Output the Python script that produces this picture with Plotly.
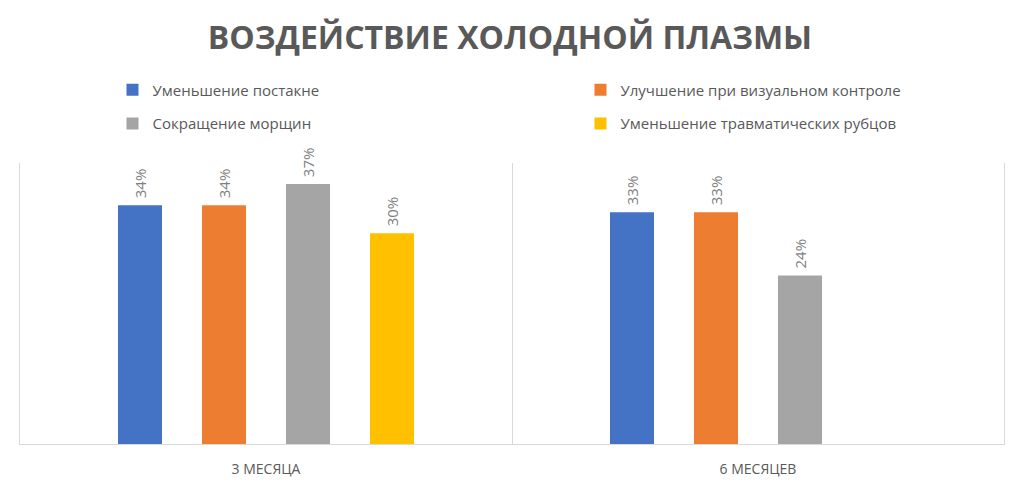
import plotly.graph_objects as go

categories = ["3 МЕСЯЦА", "6 МЕСЯЦЕВ"]
series_names = [
    "Уменьшение постакне",
    "Улучшение при визуальном контроле",
    "Сокращение морщин",
    "Уменьшение травматических рубцов",
]
series_values = [
    [0.34, 0.33],
    [0.34, 0.33],
    [0.37, 0.24],
    [0.30, None],
]
colors = ["#4472C4", "#ED7D31", "#A5A5A5", "#FFC000"]
legend_ids = ["legend", "legend", "legend2", "legend2"]

fig = go.Figure()
for name, vals, col, lg in zip(series_names, series_values, colors, legend_ids):
    fig.add_trace(go.Bar(
        x=categories, y=vals, name=name, legend=lg,
        marker=dict(color=col, line=dict(width=0)),
        text=["\u00a0" + f"{v*100:.0f}%" if v is not None else "" for v in vals],
        textposition="outside", textangle=-90,
        textfont=dict(family="Open Sans", size=15, color="#7F7F7F"),
        cliponaxis=False,
    ))

legend_common = dict(orientation="h", x=0.094, xanchor="left", yanchor="middle",
                     entrywidth=423, entrywidthmode="pixels",
                     font=dict(family="Open Sans", size=15, color="#595959"),
                     itemclick=False, bgcolor="rgba(0,0,0,0)")

fig.update_layout(
    width=1016, height=480,
    margin=dict(l=12, r=20, t=155, b=44, autoexpand=False),
    paper_bgcolor="white", plot_bgcolor="white",
    barmode="group", bargap=0.317, bargroupgap=0.476,
    title=dict(text="<b>ВОЗДЕЙСТВИЕ ХОЛОДНОЙ ПЛАЗМЫ</b>", x=0.494, xanchor="center",
               y=0.938, yanchor="middle",
               font=dict(family="Open Sans", size=32, color="#595959")),
    legend=dict(y=1.26, **legend_common),
    legend2=dict(y=1.14, **legend_common),
    showlegend=True,
)
fig.update_xaxes(
    type="category", tickson="boundaries", showgrid=True, gridcolor="#D9D9D9", gridwidth=1,
    showline=True, linecolor="#D9D9D9", linewidth=1, mirror=False,
    ticks="", ticklabelstandoff=12,
    tickfont=dict(family="Open Sans", size=14, color="#595959"),
)
fig.update_yaxes(range=[0, 0.40], showticklabels=False, ticks="", showgrid=False, zeroline=False,
                 showline=True, mirror=True, linecolor="#D9D9D9", linewidth=1)

fig.write_html("out.html")
